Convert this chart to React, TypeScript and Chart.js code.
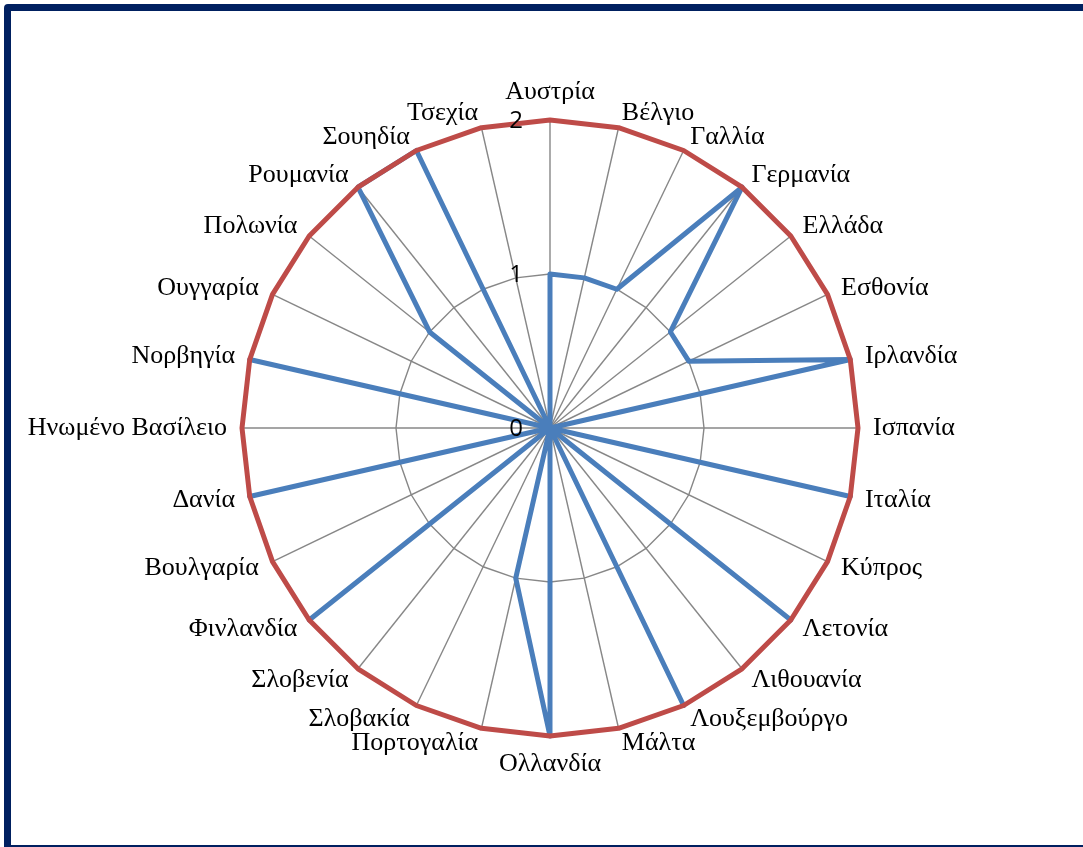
import React, { useEffect, useRef } from "react";
import { Chart, registerables } from "chart.js";

Chart.register(...registerables);

const categories: string[] = [
  "Αυστρία", "Βέλγιο", "Γαλλία", "Γερμανία", "Ελλάδα", "Εσθονία", "Ιρλανδία",
  "Ισπανία", "Ιταλία", "Κύπρος", "Λετονία", "Λιθουανία", "Λουξεμβούργο", "Μάλτα",
  "Ολλανδία", "Πορτογαλία", "Σλοβακία", "Σλοβενία", "Φινλανδία", "Βουλγαρία",
  "Δανία", "Ηνωμένο Βασίλειο", "Νορβηγία", "Ουγγαρία", "Πολωνία", "Ρουμανία",
  "Σουηδία", "Τσεχία",
];

const seriesBlue: number[] = [
  1, 1, 1, 2, 1, 1, 2,
  0, 2, 0, 2, 0, 2, 0,
  2, 1, 0, 0, 2, 0,
  2, 0, 2, 0, 1, 2,
  2, 0,
];

const seriesRed: number[] = [
  2, 2, 2, 2, 2, 2, 2,
  2, 2, 2, 2, 2, 2, 2,
  2, 2, 2, 2, 2, 2,
  2, 2, 2, 2, 2, 2,
  2, 2,
];

const tickValues: number[] = [0, 1, 2];

const labelPlugin = {
  id: "customLabels",
  afterDatasetsDraw(chart: any) {
    const scale = chart.scales.r;
    const ctx = chart.ctx as CanvasRenderingContext2D;
    ctx.save();
    ctx.fillStyle = "#000000";
    ctx.font = '26px "Liberation Serif", "Times New Roman", serif';
    const n = categories.length;
    for (let i = 0; i < n; i++) {
      const p = scale.getPointPosition(i, scale.drawingArea + 15);
      const deg = Math.round((scale.getIndexAngle(i) * 180) / Math.PI) % 360;
      if (deg === 0) {
        ctx.textAlign = "center";
        ctx.textBaseline = "bottom";
      } else if (deg === 180) {
        ctx.textAlign = "center";
        ctx.textBaseline = "top";
      } else if (deg < 180) {
        ctx.textAlign = "left";
        ctx.textBaseline = "middle";
      } else {
        ctx.textAlign = "right";
        ctx.textBaseline = "middle";
      }
      ctx.fillText(categories[i], p.x, p.y);
    }
    ctx.font = '24px "Open Sans", "DejaVu Sans", sans-serif';
    ctx.textAlign = "right";
    ctx.textBaseline = "middle";
    for (const t of tickValues) {
      const d = scale.getDistanceFromCenterForValue(t);
      ctx.fillText(String(t), scale.xCenter - 27, scale.yCenter - d + 1);
    }
    ctx.restore();
  },
};

export default function App() {
  const canvasRef = useRef<HTMLCanvasElement | null>(null);

  useEffect(() => {
    document.body.style.margin = "0";
    document.documentElement.style.overflow = "hidden";
    const canvas = canvasRef.current;
    if (!canvas) return;
    const chart = new Chart(canvas, {
      type: "radar",
      data: {
        labels: categories,
        datasets: [
          {
            label: "Σειρά1",
            data: seriesBlue,
            borderColor: "#4a7ebb",
            borderWidth: 5,
            backgroundColor: "transparent",
            fill: false,
            pointRadius: 0,
            pointHoverRadius: 0,
            borderJoinStyle: "round",
            order: 2,
          },
          {
            label: "Σειρά2",
            data: seriesRed,
            borderColor: "#be4b48",
            borderWidth: 5,
            backgroundColor: "transparent",
            fill: false,
            pointRadius: 0,
            pointHoverRadius: 0,
            borderJoinStyle: "round",
            order: 1,
          },
        ],
      },
      options: {
        responsive: false,
        animation: false,
        layout: { padding: { left: 242, right: 225, top: 120, bottom: 111 } },
        plugins: {
          legend: { display: false },
          tooltip: { enabled: false },
          title: { display: false },
        },
        scales: {
          r: {
            min: 0,
            max: 2,
            ticks: { stepSize: 1, display: false },
            grid: { color: "#878787", lineWidth: 1.4, circular: false },
            angleLines: { color: "#878787", lineWidth: 1.4 },
            pointLabels: { display: false },
          },
        },
      },
      plugins: [labelPlugin],
    });
    return () => chart.destroy();
  }, []);

  return (
    <div
      style={{
        position: "fixed",
        left: 0,
        top: 0,
        width: 1083,
        height: 847,
        overflow: "hidden",
        background: "#ffffff",
      }}
    >
      <canvas
        ref={canvasRef}
        width={1083}
        height={847}
        style={{ position: "absolute", left: 0, top: 0, width: 1083, height: 847 }}
      />
      <div
        style={{
          position: "absolute",
          left: 4,
          top: 4,
          width: 1120,
          height: 848,
          boxSizing: "border-box",
          border: "7px solid #002060",
          borderRadius: 4,
          pointerEvents: "none",
        }}
      />
    </div>
  );
}
